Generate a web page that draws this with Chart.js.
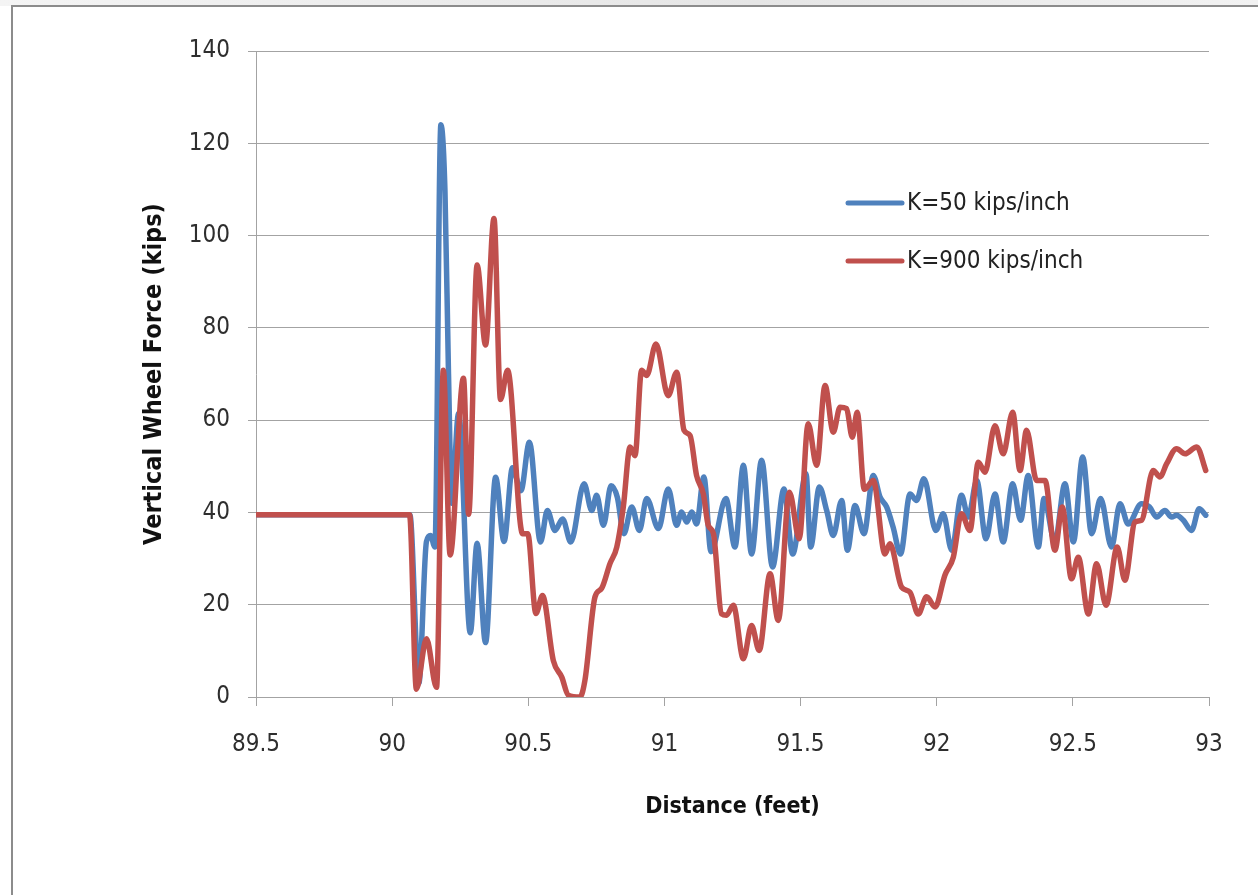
<!DOCTYPE html>
<html>
<head>
<meta charset="utf-8">
<script src="https://cdn.jsdelivr.net/npm/chart.js@4.4.1/dist/chart.umd.min.js"></script>
<style>
  html, body { margin: 0; padding: 0; background: #fff; }
  #wrap { position: relative; width: 1258px; height: 895px; background: #fff; overflow: hidden; }
  #shade { position: absolute; left: 0; top: 0; width: 1258px; height: 6px; background: linear-gradient(90deg, #f4f4f4, #e6e6e6 60%, #f2f2f2); }
  #frame { position: absolute; left: 11px; top: 5px; width: 1260px; height: 900px; border-left: 2px solid #8c8c8c; border-top: 2px solid #8c8c8c; }
  canvas { position: absolute; left: 0; top: 0; }
</style>
</head>
<body>
<div id="wrap">
  <div id="shade"></div>
  <div id="frame"></div>
  <canvas id="chart" width="1258" height="895"></canvas>
</div>
<script>
// ── Data ─────────────────────────────────────────────────────────────────────

const SERIES_LABELS = ['K=50 kips/inch', 'K=900 kips/inch'];
const Y_TICKS = [0, 20, 40, 60, 80, 100, 120, 140];
const X_TICKS = [89.5, 90, 90.5, 91, 91.5, 92, 92.5, 93];

// K=50 kips/inch
const k50X = [
  89.5, 90.065, 90.098, 90.126, 90.141, 90.157, 90.179, 90.194, 90.207, 90.219,
  90.244, 90.287, 90.312, 90.343, 90.380, 90.411, 90.442, 90.473, 90.504, 90.545,
  90.570, 90.598, 90.626, 90.656, 90.705, 90.733, 90.751, 90.776, 90.804, 90.827,
  90.851, 90.880, 90.908, 90.935, 90.978, 91.014, 91.045, 91.063, 91.082, 91.100,
  91.118, 91.145, 91.171, 91.226, 91.259, 91.290, 91.320, 91.357, 91.397, 91.439,
  91.471, 91.520, 91.537, 91.569, 91.596, 91.620, 91.651, 91.672, 91.700, 91.733,
  91.767, 91.792, 91.816, 91.840, 91.867, 91.902, 91.926, 91.953, 91.997, 92.024,
  92.055, 92.091, 92.116, 92.147, 92.181, 92.214, 92.244, 92.279, 92.308, 92.336,
  92.373, 92.394, 92.434, 92.471, 92.502, 92.536, 92.569, 92.602, 92.642, 92.673,
  92.703, 92.752, 92.781, 92.808, 92.838, 92.863, 92.881, 92.906, 92.936, 92.964,
  92.988
];
const k50Y = [
  39.5, 39.5, 3, 33.7, 35, 32.5, 124, 109.6, 70, 42,
  61.5, 13.9, 33.3, 11.8, 47.6, 33.7, 49.7, 44.7, 55.2, 33.6,
  40.4, 36.1, 38.6, 33.6, 46.2, 40.4, 43.7, 37.2, 45.8, 43.3,
  35.4, 41.2, 36.1, 43, 36.5, 45.1, 37.2, 40.1, 37.9, 40.1,
  37.5, 47.7, 31.5, 43, 32.5, 50.2, 31, 51.3, 28.2, 45.1,
  31, 48.4, 32.5, 45.5, 40.4, 35, 42.6, 31.8, 41.5, 35.4,
  48, 43.3, 41.2, 36.8, 31, 44, 42.6, 47.3, 36.1, 39.7,
  31.8, 43.7, 39, 46.9, 34.3, 44, 33.6, 46.2, 38.3, 48,
  32.5, 43, 33.6, 46.2, 33.6, 52, 35.4, 43, 32.5, 41.9,
  37.5, 41.9, 41.2, 39, 40.4, 39, 39.4, 38.3, 36.1, 40.8,
  39.4
];

// K=900 kips/inch
const k900X = [
  89.5, 90.064, 90.089, 90.126, 90.163, 90.188, 90.213, 90.262, 90.281, 90.312,
  90.343, 90.374, 90.398, 90.424, 90.479, 90.498, 90.528, 90.552, 90.592, 90.623,
  90.647, 90.690, 90.708, 90.745, 90.769, 90.800, 90.825, 90.849, 90.874, 90.892,
  90.916, 90.935, 90.969, 91.014, 91.045, 91.072, 91.094, 91.118, 91.143, 91.161,
  91.180, 91.210, 91.228, 91.253, 91.290, 91.320, 91.348, 91.388, 91.418, 91.459,
  91.495, 91.528, 91.559, 91.590, 91.620, 91.645, 91.669, 91.690, 91.708, 91.734,
  91.767, 91.810, 91.828, 91.871, 91.902, 91.932, 91.963, 91.994, 92.030, 92.061,
  92.091, 92.122, 92.153, 92.177, 92.214, 92.244, 92.279, 92.306, 92.330, 92.367,
  92.398, 92.434, 92.461, 92.495, 92.520, 92.557, 92.587, 92.622, 92.663, 92.691,
  92.728, 92.752, 92.795, 92.820, 92.844, 92.881, 92.912, 92.955, 92.988
];
const k900Y = [
  39.5, 39.5, 1.7, 12.6, 2.1, 70.8, 30.8, 69.1, 39.6, 93.6,
  76.3, 103.7, 64.5, 70.8, 35.4, 35.4, 18.1, 22, 7.9, 4.3,
  0.4, 0, 3.6, 21.7, 23.5, 28.9, 32.5, 41.2, 54.2, 52.3,
  70.8, 69.7, 76.5, 65.3, 70.4, 57.8, 56.7, 48, 44, 37.2,
  35.4, 18, 17.7, 19.9, 8.3, 15.5, 10.1, 26.7, 16.6, 44.4,
  34.3, 59.2, 50.2, 67.5, 57.4, 62.8, 62.5, 56.3, 61.7, 45,
  46.9, 31, 33.2, 23.8, 22.7, 18, 21.7, 19.5, 26.4, 30.3,
  39.7, 36.1, 50.9, 48.7, 58.8, 52.7, 61.7, 49.1, 57.8, 46.9,
  46.9, 31.8, 41.2, 25.6, 30.3, 18, 28.9, 19.9, 32.5, 25.3,
  37.9, 38.3, 49.1, 47.7, 50.5, 53.8, 52.7, 54.2, 49.1
];

// ── Style ────────────────────────────────────────────────────────────────────

const COLORS = {
  blue:  '#4f81bd',
  red:   '#c0504d',
  grid:  '#a3a3a3',
  tick:  '#2e2e2e',
  title: '#111111',
};
const FONT = "'Liberation Sans Narrow', 'DejaVu Sans Condensed', 'Open Sans', sans-serif";

const zip = (xs, ys) => xs.map((x, i) => ({ x, y: ys[i] }));

// ── Legend drawn inside the plot area (like the Excel original) ──────────────

const insideLegend = {
  id: 'insideLegend',
  afterDraw(chart) {
    const { ctx } = chart;
    const rows = [203, 261];
    ctx.save();
    chart.data.datasets.forEach((ds, i) => {
      const y = rows[i];
      ctx.strokeStyle = ds.borderColor;
      ctx.lineWidth = 5;
      ctx.lineCap = 'round';
      ctx.beginPath();
      ctx.moveTo(848, y);
      ctx.lineTo(902, y);
      ctx.stroke();
      ctx.fillStyle = '#222';
      ctx.font = `24px ${FONT}`;
      ctx.textBaseline = 'middle';
      ctx.textAlign = 'left';
      ctx.fillText(ds.label, 907, y + 1);
    });
    ctx.restore();
  }
};

const lineStyle = {
  borderWidth: 5.5,
  pointRadius: 0,
  cubicInterpolationMode: 'monotone',
  borderJoinStyle: 'round',
  borderCapStyle: 'round',
};

new Chart(document.getElementById('chart'), {
  type: 'line',
  data: {
    datasets: [
      { ...lineStyle, label: SERIES_LABELS[0], data: zip(k50X, k50Y), borderColor: COLORS.blue, order: 1 },
      { ...lineStyle, label: SERIES_LABELS[1], data: zip(k900X, k900Y), borderColor: COLORS.red, order: 0 },
    ],
  },
  options: {
    responsive: false,
    animation: false,
    layout: { padding: { top: 51, right: 49, left: 0, bottom: 0 } },
    scales: {
      x: {
        type: 'linear',
        min: X_TICKS[0],
        max: X_TICKS[X_TICKS.length - 1],
        afterBuildTicks: s => { s.ticks = X_TICKS.map(v => ({ value: v })); },
        afterFit: s => { s.height = 198; },
        grid: { drawOnChartArea: false, color: COLORS.grid, tickLength: 9 },
        border: { color: COLORS.grid, width: 1 },
        ticks: {
          color: COLORS.tick,
          font: { family: FONT, size: 24 },
          padding: 24,
          maxRotation: 0,
          callback: v => String(v),
        },
        title: {
          display: true,
          text: 'Distance (feet)',
          color: COLORS.title,
          font: { family: FONT, size: 23, weight: 'bold' },
          padding: { top: 0, bottom: 74 },
        },
      },
      y: {
        min: Y_TICKS[0],
        max: Y_TICKS[Y_TICKS.length - 1],
        afterBuildTicks: s => { s.ticks = Y_TICKS.map(v => ({ value: v })); },
        afterFit: s => { s.width = 256; },
        grid: { color: COLORS.grid, tickLength: 8 },
        border: { color: COLORS.grid, width: 1 },
        ticks: { color: COLORS.tick, font: { family: FONT, size: 24 }, padding: 18 },
        title: {
          display: true,
          text: 'Vertical Wheel Force (kips)',
          color: COLORS.title,
          font: { family: FONT, size: 25, weight: 'bold' },
          padding: { top: 139, bottom: 0 },
        },
      },
    },
    plugins: {
      legend: { display: false },
      tooltip: { enabled: false },
    },
  },
  plugins: [insideLegend],
});
</script>
</body>
</html>
